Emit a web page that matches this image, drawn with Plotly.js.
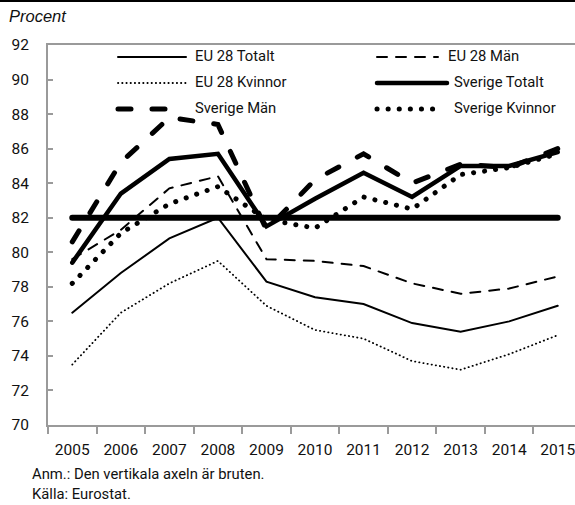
<!DOCTYPE html>
<html>
<head>
<meta charset="utf-8">
<script src="https://cdn.plot.ly/plotly-3.0.1.min.js"></script>
<style>
html, body { margin: 0; padding: 0; overflow: hidden; background: #fff; }
#chart { width: 582px; height: 505px; }
.scatterlayer .js-line { stroke-linecap: round; stroke-linejoin: miter; }
.shapelayer path { stroke-linecap: round; }
</style>
</head>
<body>
<div id="chart"></div>
<script>
// ---- data ----
const years = ['2005','2006','2007','2008','2009','2010','2011','2012','2013','2014','2015'];
const euTotalt   = [76.5, 78.8, 80.8, 82.0, 78.3, 77.4, 77.0, 75.9, 75.4, 76.0, 76.9];
const euMan      = [79.6, 81.3, 83.7, 84.4, 79.6, 79.5, 79.2, 78.2, 77.6, 77.9, 78.6];
const euKvinnor  = [73.5, 76.5, 78.2, 79.5, 76.9, 75.5, 75.0, 73.7, 73.2, 74.1, 75.2];
const seTotalt   = [79.4, 83.4, 85.4, 85.7, 81.5, 83.1, 84.6, 83.2, 85.0, 85.0, 85.8];
const seMan      = [80.6, 85.2, 87.8, 87.4, 81.3, 84.2, 85.7, 84.0, 85.1, 84.9, 86.0];
const seKvinnor  = [78.2, 81.1, 82.8, 83.8, 81.9, 81.4, 83.2, 82.5, 84.5, 84.9, 85.7];
const riktmarke  = [82, 82, 82, 82, 82, 82, 82, 82, 82, 82, 82];
const seriesNames = ['EU 28 Totalt', 'EU 28 Män', 'EU 28 Kvinnor', 'Sverige Totalt', 'Sverige Män', 'Sverige Kvinnor'];
const yTicks = [70, 72, 74, 76, 78, 80, 82, 84, 86, 88, 90, 92];
const yAxisLabel = 'Procent';
const targetLabel = 'Riktmärke';
const notes = ['Anm.: Den vertikala axeln är bruten.', 'Källa: Eurostat.'];

// ---- styles ----
const FONT = 'Roboto, "Liberation Sans", sans-serif';
const AXC = '#9a9a9a';
const styles = [
  {width: 2,   dash: 'solid'},
  {width: 2,   dash: '10px,9px'},
  {width: 1.8, dash: '0.3px,3.9px'},
  {width: 4.5, dash: 'solid'},
  {width: 5,   dash: '13px,21px'},
  {width: 5,   dash: '0.1px,11px'}
];
const seriesData = [euTotalt, euMan, euKvinnor, seTotalt, seMan, seKvinnor];

const W = 582, H = 505, ML = 48, MR = 0, MT = 45, MB = 80;
const PW = W - ML - MR, PH = H - MT - MB;
const px = x => (x - ML) / PW;
const py = y => (MT + PH - y) / PH;

const traces = seriesData.map((d, i) => ({
  type: 'scatter', mode: 'lines', x: years, y: d, name: seriesNames[i],
  line: {color: '#000', width: styles[i].width, dash: styles[i].dash},
  showlegend: false, hoverinfo: 'skip'
}));
traces.push({
  type: 'scatter', mode: 'lines', x: years, y: riktmarke, name: targetLabel,
  line: {color: '#000', width: 6}, showlegend: false, hoverinfo: 'skip'
});

// manual legend (3 rows x 2 columns)
const legendPos = [
  {x0: 118, x1: 186, tx: 193, y: 56},
  {x0: 377, x1: 438, tx: 446, y: 56},
  {x0: 118, x1: 186, tx: 193, y: 82},
  {x0: 377, x1: 447, tx: 452, y: 82},
  {x0: 118, x1: 186, tx: 193, y: 108},
  {x0: 377, x1: 440, tx: 452, y: 108}
];
const shapes = [];
const annotations = [];
legendPos.forEach((p, i) => {
  shapes.push({type: 'line', xref: 'paper', yref: 'paper',
    x0: px(p.x0), x1: px(p.x1), y0: py(p.y + 1), y1: py(p.y + 1),
    line: {color: '#000', width: styles[i].width, dash: styles[i].dash}});
  annotations.push({xref: 'paper', yref: 'paper', x: px(p.tx), y: py(p.y),
    xanchor: 'left', yanchor: 'middle', showarrow: false, text: seriesNames[i],
    font: {family: FONT, size: 14.8, color: '#111'}});
});
// top black rule
shapes.push({type: 'line', xref: 'paper', yref: 'paper', x0: px(0), x1: px(W), y0: py(1), y1: py(1),
  line: {color: '#000', width: 2}});

annotations.push({xref: 'paper', yref: 'paper', x: px(7), y: py(16), xanchor: 'left', yanchor: 'middle',
  showarrow: false, text: '<i>' + yAxisLabel + '</i>',
  font: {family: '"Liberation Sans", Arial, sans-serif', size: 16.5, color: '#111'}});
annotations.push({x: '2014', y: 82, xref: 'x', yref: 'y', xanchor: 'center', yanchor: 'middle',
  xshift: 2, yshift: 13, showarrow: false, text: targetLabel,
  font: {family: FONT, size: 14.8, color: '#111'}});
annotations.push({xref: 'paper', yref: 'paper', x: px(30), y: py(474), xanchor: 'left', yanchor: 'middle',
  showarrow: false, text: notes[0], font: {family: FONT, size: 14.8, color: '#111'}});
annotations.push({xref: 'paper', yref: 'paper', x: px(30), y: py(494), xanchor: 'left', yanchor: 'middle',
  showarrow: false, text: notes[1], font: {family: FONT, size: 14.8, color: '#111'}});

const layout = {
  width: W, height: H,
  margin: {l: ML, r: MR, t: MT, b: MB, pad: 0},
  paper_bgcolor: '#fff', plot_bgcolor: '#fff',
  showlegend: false, hovermode: false,
  font: {family: FONT, size: 15, color: '#111'},
  xaxis: {
    type: 'category', range: [-0.5, 10.5], fixedrange: true, tickangle: 0,
    showline: true, linecolor: AXC, linewidth: 2, mirror: true,
    ticks: 'outside', ticklen: 7, tickwidth: 2, tickcolor: AXC, tickson: 'boundaries',
    showgrid: false, zeroline: false, ticklabelstandoff: 9,
    tickfont: {family: FONT, size: 15.5, color: '#111'}
  },
  yaxis: {
    range: [70, 92], tickvals: yTicks, fixedrange: true,
    showline: true, linecolor: AXC, linewidth: 2,
    ticks: 'inside', ticklen: 5, tickwidth: 2, tickcolor: AXC,
    showgrid: false, zeroline: false, ticklabelstandoff: 14,
    tickfont: {family: FONT, size: 15.5, color: '#111'}
  },
  shapes: shapes,
  annotations: annotations
};

Plotly.newPlot('chart', traces, layout, {displayModeBar: false, staticPlot: true});
</script>
</body>
</html>
